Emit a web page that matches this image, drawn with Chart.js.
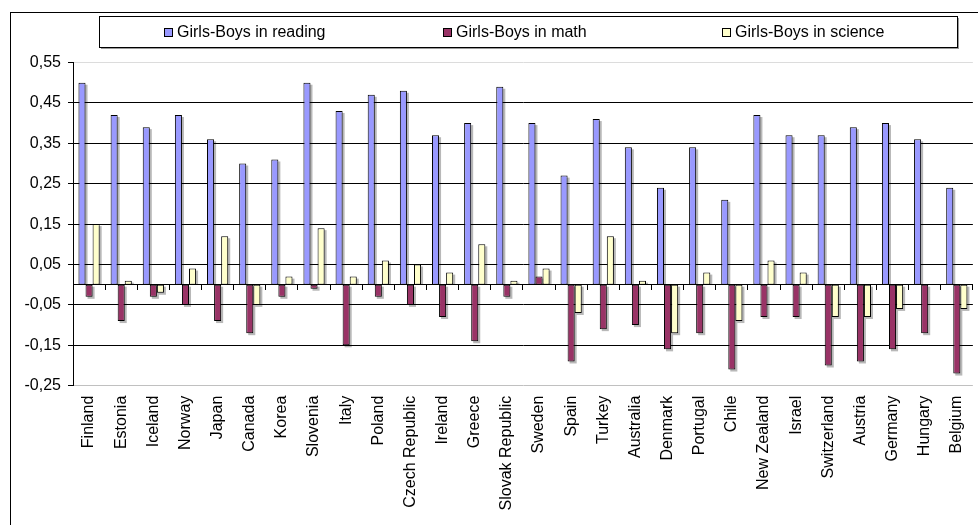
<!DOCTYPE html>
<html>
<head>
<meta charset="utf-8">
<script src="https://cdn.jsdelivr.net/npm/chart.js@4.4.1/dist/chart.umd.min.js"></script>
<style>
  html, body { margin: 0; padding: 0; background: #fff; overflow: hidden; width: 978px; height: 525px; }
  #wrap { position: absolute; left: 0; top: 0; width: 978px; height: 525px; }
</style>
</head>
<body>
<div id="wrap"><canvas id="chart" width="978" height="525"></canvas></div>
<script>
// PISA gender gaps (girls minus boys), by country
const countries = ['Finland', 'Estonia', 'Iceland', 'Norway', 'Japan', 'Canada', 'Korea', 'Slovenia',
  'Italy', 'Poland', 'Czech Republic', 'Ireland', 'Greece', 'Slovak Republic', 'Sweden', 'Spain',
  'Turkey', 'Australia', 'Denmark', 'Portugal', 'Chile', 'New Zealand', 'Israel', 'Switzerland',
  'Austria', 'Germany', 'Hungary', 'Belgium'];

const readingGap = [0.50, 0.42, 0.39, 0.42, 0.36, 0.30, 0.31, 0.50,
  0.43, 0.47, 0.48, 0.37, 0.40, 0.49, 0.40, 0.27,
  0.41, 0.34, 0.24, 0.34, 0.21, 0.42, 0.37, 0.37,
  0.39, 0.40, 0.36, 0.24];

const mathGap = [-0.03, -0.09, -0.03, -0.05, -0.09, -0.12, -0.03, -0.01,
  -0.15, -0.03, -0.05, -0.08, -0.14, -0.03, 0.02, -0.19,
  -0.11, -0.10, -0.16, -0.12, -0.21, -0.08, -0.08, -0.20,
  -0.19, -0.16, -0.12, -0.22];

const scienceGap = [0.15, 0.01, -0.02, 0.04, 0.12, -0.05, 0.02, 0.14,
  0.02, 0.06, 0.05, 0.03, 0.10, 0.01, 0.04, -0.07,
  0.12, 0.01, -0.12, 0.03, -0.09, 0.06, 0.03, -0.08,
  -0.08, -0.06, 0.00, -0.06];

const seriesNames = ['Girls-Boys in reading', 'Girls-Boys in math', 'Girls-Boys in science'];
const seriesColors = ['#9999FF', '#993366', '#FFFFCC'];

// value axis range and tick step
const yMin = -0.25;
const yMax = 0.55;
const yStep = 0.1;

const FONT = '"Liberation Sans", Arial, sans-serif';
Chart.defaults.font.family = FONT;
Chart.defaults.font.size = 16;
Chart.defaults.color = '#000';

// white background and the outer chart frame
const chartFrame = {
  id: 'chartFrame',
  beforeDraw(chart) {
    const ctx = chart.ctx;
    ctx.save();
    ctx.fillStyle = '#fff';
    ctx.fillRect(0, 0, chart.width, chart.height);
    ctx.strokeStyle = '#000';
    ctx.lineWidth = 1;
    ctx.strokeRect(10.5, 12.5, chart.width + 40, chart.height + 40);
    ctx.restore();
  }
};

// soft grey drop shadow behind every bar
const barShadow = {
  id: 'barShadow',
  beforeDatasetsDraw(chart) {
    const ctx = chart.ctx;
    ctx.save();
    ctx.fillStyle = 'rgba(0,0,0,0.28)';
    chart.data.datasets.forEach((ds, i) => {
      chart.getDatasetMeta(i).data.forEach(bar => {
        const { x, y, base, width } = bar.getProps(['x', 'y', 'base', 'width'], true);
        const top = Math.min(y, base);
        const bottom = Math.max(y, base);
        if (bottom - top < 1) return;
        const negative = y > base;
        const sTop = top + 2;
        const sBottom = negative ? bottom + 2 : bottom;
        ctx.fillRect(x - width / 2 + 2, sTop, width, sBottom - sTop);
      });
    });
    ctx.restore();
  }
};

// boxed legend row above the plot
const boxLegend = {
  id: 'boxLegend',
  afterDraw(chart) {
    const ctx = chart.ctx;
    const f = { left: 99, top: 16, right: 957, bottom: 47 };
    const w = f.right - f.left, h = f.bottom - f.top;
    ctx.save();
    ctx.fillStyle = '#9a9a9a';
    ctx.fillRect(f.left + 2, f.top + 2, w, h);
    ctx.fillStyle = '#fff';
    ctx.fillRect(f.left, f.top, w, h);
    ctx.strokeStyle = '#000';
    ctx.lineWidth = 1;
    ctx.strokeRect(f.left + 0.5, f.top + 0.5, w, h);
    const cy = Math.round((f.top + f.bottom) / 2) + 1;
    ctx.font = '16px ' + FONT;
    ctx.textBaseline = 'middle';
    ctx.textAlign = 'left';
    chart.data.datasets.forEach((ds, i) => {
      const x = f.left + 65 + i * 279;
      ctx.fillStyle = ds.backgroundColor;
      ctx.fillRect(x, cy - 5, 9, 9);
      ctx.strokeStyle = '#000';
      ctx.strokeRect(x + 0.5, cy - 4.5, 8, 8);
      ctx.fillStyle = '#000';
      ctx.fillText(ds.label, x + 13, cy);
    });
    ctx.restore();
  }
};

const datasets = [readingGap, mathGap, scienceGap].map((values, i) => ({
  label: seriesNames[i],
  data: values,
  backgroundColor: seriesColors[i],
  borderColor: '#000',
  borderWidth: 1,
  borderSkipped: false,
  categoryPercentage: 0.66,
  barPercentage: 1.0
}));

new Chart(document.getElementById('chart'), {
  type: 'bar',
  data: { labels: countries, datasets },
  options: {
    responsive: false,
    devicePixelRatio: 1,
    animation: false,
    layout: { padding: { top: 62.5, left: 0, right: 0, bottom: 0 } },
    plugins: {
      legend: { display: false },
      tooltip: { enabled: false }
    },
    scales: {
      x: {
        type: 'category',
        offset: true,
        grid: { display: false },
        border: { display: false },
        ticks: {
          autoSkip: false,
          minRotation: 90,
          maxRotation: 90,
          padding: 2,
          font: { size: 16 },
          color: '#000'
        },
        afterFit(scale) { scale.height = 139.3; }
      },
      // zero baseline with category tick marks
      x2: {
        type: 'category',
        axis: 'x',
        labels: countries,
        position: { y: 0 },
        offset: true,
        grid: { display: true, drawOnChartArea: false, offset: true, tickLength: 5, color: '#000', lineWidth: 1 },
        border: { display: true, color: '#000', width: 1 },
        ticks: { display: false }
      },
      y: {
        min: yMin,
        max: yMax,
        ticks: {
          stepSize: yStep,
          padding: 7,
          font: { size: 16 },
          color: '#000',
          callback: v => v.toFixed(2).replace('.', ',')
        },
        grid: {
          color: c => {
            if (!c.tick) return '#000';
            const v = Math.round(c.tick.value * 100) / 100;
            if (v === yMax) return '#dcdcdc';
            if (v === yMin) return '#c0c0c0';
            return '#000';
          },
          tickColor: '#000',
          tickLength: 5,
          lineWidth: 1
        },
        border: { display: true, color: '#000', width: 1 },
        afterFit(scale) { scale.width = 73; }
      }
    }
  },
  plugins: [chartFrame, barShadow, boxLegend]
});
</script>
</body>
</html>
